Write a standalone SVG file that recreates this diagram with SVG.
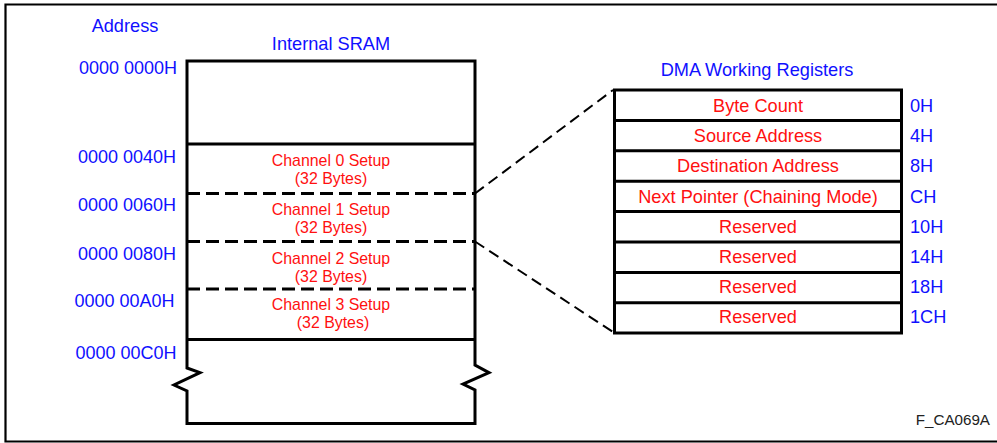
<svg xmlns="http://www.w3.org/2000/svg" width="997" height="443" viewBox="0 0 997 443">
<style>
text{font-family:"Liberation Sans",Arial,sans-serif}
.blue{fill:#1010ff;font-size:18.2px}
.addr{fill:#1010ff;font-size:18px;text-anchor:end}
.red{fill:#ff1010;font-size:18.2px;text-anchor:middle}
.ch{fill:#ff1010;font-size:15.9px;text-anchor:middle}
.box{fill:none;stroke:#000;stroke-width:3}
.dash{fill:none;stroke:#000;stroke-width:3;stroke-dasharray:13 6}
.conn{fill:none;stroke:#000;stroke-width:2;stroke-dasharray:11 6}
</style>
<rect width="997" height="443" fill="#fff"/>
<path d="M997,4.5 H5.5 V441.5 H997" fill="none" stroke="#000" stroke-width="2.2"/>
<text x="125" y="32" class="blue" text-anchor="middle">Address</text>
<g id="sram">
<text x="331" y="50" class="blue" text-anchor="middle">Internal SRAM</text>
<path class="box" d="M187,368 L200,372.7 L174,385 L187,391 V423.5 H475 V390 L463,384 L489,372.7 L475,365 V61 H187 Z"/>
<line class="box" x1="187" y1="144" x2="475" y2="144"/>
<line class="dash" x1="187" y1="193.5" x2="475" y2="193.5"/>
<line class="dash" x1="187" y1="241.5" x2="475" y2="241.5"/>
<line class="dash" x1="187" y1="289" x2="475" y2="289"/>
<line class="box" x1="187" y1="339.5" x2="475" y2="339.5"/>
</g>
<g id="addresses">
<text x="177" y="74" class="addr">0000 0000H</text>
<text x="176" y="162.5" class="addr">0000 0040H</text>
<text x="176" y="210.5" class="addr">0000 0060H</text>
<text x="176" y="260" class="addr">0000 0080H</text>
<text x="174.5" y="306.5" class="addr">0000 00A0H</text>
<text x="176.5" y="359" class="addr">0000 00C0H</text>
</g>
<g id="ch0"><text x="331" y="166" class="ch">Channel 0 Setup</text><text x="331" y="184" class="ch">(32 Bytes)</text></g>
<g id="ch1"><text x="331" y="215" class="ch">Channel 1 Setup</text><text x="331" y="233" class="ch">(32 Bytes)</text></g>
<g id="ch2"><text x="331" y="264" class="ch">Channel 2 Setup</text><text x="331" y="281.5" class="ch">(32 Bytes)</text></g>
<g id="ch3"><text x="331" y="310" class="ch">Channel 3 Setup</text><text x="333" y="327.5" class="ch">(32 Bytes)</text></g>
<g id="connectors">
<line class="conn" x1="475" y1="193.5" x2="613" y2="90"/>
<line class="conn" x1="475" y1="241.5" x2="613" y2="332"/>
</g>
<g id="registers">
<text x="757" y="76" class="blue" text-anchor="middle">DMA Working Registers</text>
<rect class="box" x="614.5" y="90" width="287" height="243"/>
<g stroke="#000" stroke-width="3">
<line x1="614.5" y1="120.4" x2="901.5" y2="120.4"/>
<line x1="614.5" y1="150.8" x2="901.5" y2="150.8"/>
<line x1="614.5" y1="181.2" x2="901.5" y2="181.2"/>
<line x1="614.5" y1="211.6" x2="901.5" y2="211.6"/>
<line x1="614.5" y1="242" x2="901.5" y2="242"/>
<line x1="614.5" y1="272.4" x2="901.5" y2="272.4"/>
<line x1="614.5" y1="302.8" x2="901.5" y2="302.8"/>
</g>
<text x="758" y="111.7" class="red">Byte Count</text>
<text x="758" y="142" class="red">Source Address</text>
<text x="758" y="172.4" class="red">Destination Address</text>
<text x="758" y="202.8" class="red">Next Pointer (Chaining Mode)</text>
<text x="758" y="232.5" class="red">Reserved</text>
<text x="758" y="263" class="red">Reserved</text>
<text x="758" y="293" class="red">Reserved</text>
<text x="758" y="323" class="red">Reserved</text>
<text x="910" y="111.7" class="blue">0H</text>
<text x="910" y="142" class="blue">4H</text>
<text x="910" y="172.4" class="blue">8H</text>
<text x="910" y="202.8" class="blue">CH</text>
<text x="910" y="232.5" class="blue">10H</text>
<text x="910" y="263" class="blue">14H</text>
<text x="910" y="293" class="blue">18H</text>
<text x="910" y="323" class="blue">1CH</text>
</g>
<text x="990" y="425" font-size="15.2" fill="#222" text-anchor="end">F_CA069A</text>
</svg>
